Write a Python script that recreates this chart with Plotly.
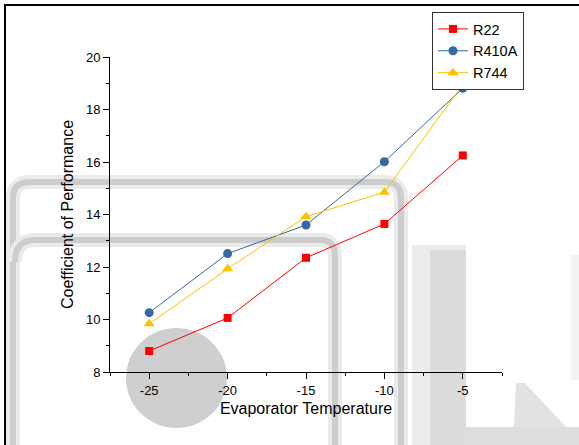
import plotly.graph_objects as go

temps = [-25, -20, -15, -10, -5]
r22 = [8.80, 10.06, 12.35, 13.64, 16.25]
r410a = [10.26, 12.51, 13.60, 16.01, 18.81]
r744 = [9.84, 11.93, 13.92, 14.85, 18.95]

W, H = 579, 445
L, R, T, B = 110, 77, 57, 73
PW, PH = W - L - R, H - T - B


def px(x):
    return (x - L) / PW


def py(y):
    return (H - B - y) / PH


def path(points, close=False):
    s = ""
    for p in points:
        cmd = p[0]
        coords = p[1:]
        s += cmd + " " + " ".join(
            f"{px(coords[i]):.5f},{py(coords[i+1]):.5f}" for i in range(0, len(coords), 2)
        ) + " "
    s = s.strip()
    if close:
        s += " Z"
    return s


fig = go.Figure()

series = [
    ("R22", r22, "#FF0000", "square", 8),
    ("R410A", r410a, "#336AA3", "circle", 9),
    ("R744", r744, "#FFC000", "triangle-up", 10),
]
for name, vals, col, sym, sz in series:
    fig.add_trace(go.Scatter(
        x=temps, y=vals, name=name, mode="lines+markers",
        line=dict(color=col, width=1),
        marker=dict(symbol=sym, size=sz, color=col),
    ))

shapes = []
# watermark-like background shapes
outer = path([("M", 13, 445), ("L", 13, 198), ("Q", 13, 182, 30, 182), ("L", 385, 182),
              ("Q", 401, 182, 401, 198), ("L", 401, 445)])
inner = path([("M", 15, 262), ("Q", 15, 240, 35, 240), ("L", 320, 240),
              ("Q", 335, 240, 335, 255), ("L", 335, 445)])
for p_ in (outer, inner):
    shapes.append(dict(type="path", path=p_, xref="paper", yref="paper", layer="below",
                       line=dict(color="#EBEBEB", width=14)))
    shapes.append(dict(type="path", path=p_, xref="paper", yref="paper", layer="below",
                       line=dict(color="#CDCDCD", width=6)))
shapes.append(dict(type="circle", xref="paper", yref="paper", layer="below",
                   x0=px(126), x1=px(227), y0=py(428), y1=py(328),
                   fillcolor="#CFCFCF", line=dict(width=0)))
shapes.append(dict(type="rect", xref="paper", yref="paper", layer="below",
                   x0=px(412), x1=px(466), y0=py(445), y1=py(245),
                   fillcolor="#ECECEC", line=dict(width=0)))
shapes.append(dict(type="rect", xref="paper", yref="paper", layer="below",
                   x0=px(430), x1=px(466), y0=py(445), y1=py(250),
                   fillcolor="#DCDCDC", line=dict(width=0)))
shapes.append(dict(type="rect", xref="paper", yref="paper", layer="below",
                   x0=px(466), x1=px(579), y0=py(445), y1=py(427),
                   fillcolor="#DEDEDE", line=dict(width=0)))
shapes.append(dict(type="rect", xref="paper", yref="paper", layer="below",
                   x0=px(571), x1=px(579), y0=py(380), y1=py(255),
                   fillcolor="#F3F3F3", line=dict(width=0)))
shapes.append(dict(type="path", xref="paper", yref="paper", layer="below",
                   path=path([("M", 514, 427), ("L", 516, 383), ("L", 525, 383), ("L", 566, 427)], close=True),
                   fillcolor="#E2E2E2", line=dict(width=0)))
# document frame
shapes.append(dict(type="line", xref="paper", yref="paper", x0=px(5), x1=px(579),
                   y0=py(5), y1=py(5), line=dict(color="black", width=2)))
shapes.append(dict(type="line", xref="paper", yref="paper", x0=px(5), x1=px(5),
                   y0=py(4), y1=py(445), line=dict(color="black", width=2)))

fig.update_layout(
    width=W, height=H,
    margin=dict(l=L, r=R, t=T, b=B, pad=0),
    paper_bgcolor="white", plot_bgcolor="rgba(0,0,0,0)",
    font=dict(family="Arial, Liberation Sans, sans-serif", color="black", size=13),
    shapes=shapes,
    legend=dict(
        x=px(432), y=py(12), xanchor="left", yanchor="top",
        bgcolor="white", bordercolor="#333333", borderwidth=1,
        font=dict(size=14.5), tracegroupgap=0, itemwidth=30,
    ),
    xaxis=dict(
        range=[-27.5, -2.5], tickmode="array", tickvals=temps,
        ticktext=[str(t) for t in temps],
        showgrid=False, zeroline=False, showline=True, linecolor="black", linewidth=1,
        ticks="outside", ticklen=6, tickcolor="black", tickwidth=1,
        minor=dict(dtick=2.5, tick0=-27.5, ticks="outside", ticklen=3, tickcolor="black", showgrid=False),
        tickfont=dict(size=13),
        title=dict(text="Evaporator Temperature", font=dict(size=16), standoff=6),
    ),
    yaxis=dict(
        range=[8, 20], dtick=2, tick0=8,
        showgrid=False, zeroline=False, showline=True, linecolor="black", linewidth=1,
        ticks="outside", ticklen=6, tickcolor="black", tickwidth=1,
        minor=dict(dtick=1, ticks="outside", ticklen=3, tickcolor="black", showgrid=False),
        tickfont=dict(size=13),
        title=dict(text="Coefficient of Performance", font=dict(size=16), standoff=8),
    ),
)

fig.write_html("out.html")
